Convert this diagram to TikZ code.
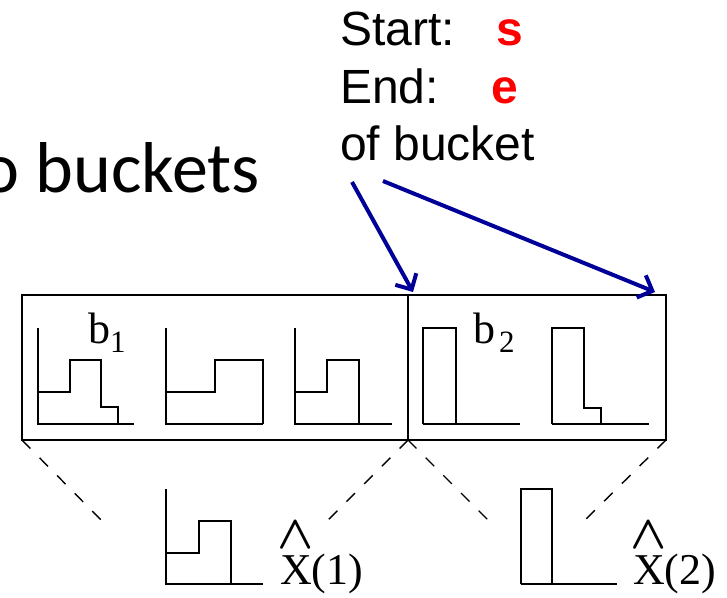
\documentclass[tikz,border=0pt]{standalone}
\usepackage{fontspec}
\usepackage{graphicx}
\usepackage{tikz}
\usetikzlibrary{arrows.meta, positioning, calc}
\newfontfamily\arialfont{Liberation Sans}
\newfontfamily\timesfont{Liberation Serif}
\newfontfamily\calibrifont{Carlito}
\definecolor{myred}{RGB}{255,0,0}
\definecolor{myblue}{RGB}{0,0,153}
\tikzset{
  frame/.style={draw=black, line width=2pt},
  hist/.style={draw=black, line width=2.3pt},
  guide/.style={draw=black, line width=1.4pt, dash pattern=on 12pt off 13pt},
  pointer/.style={-{Straight Barb[length=12pt,width=24pt]}, line width=4pt, color=myblue},
  lbl/.style={inner sep=0pt, anchor=base west},
  infotext/.style={lbl, font=\arialfont\fontsize{48}{55}\selectfont},
  redmark/.style={lbl, text=myred, font=\arialfont\bfseries\fontsize{48}{55}\selectfont},
  binlabel/.style={lbl, font=\timesfont\fontsize{44}{50}\selectfont}
}
\newcommand{\wedgehat}[1]{\rlap{\raisebox{36pt}{\makebox[31pt]{\scalebox{1.9}{\boldmath$\wedge$}}}}X(#1)}

\begin{document}
\begin{tikzpicture}[x=1pt, y=-1pt]
  \useasboundingbox (0,0) rectangle (727,597);
  \clip (0,0) rectangle (727,597);

  \node[lbl, anchor=base east, font=\calibrifont\fontsize{72}{80}\selectfont] (title) at (260,192) {o buckets};
  \node[infotext] (start) at (340,45) {Start:};
  \node[redmark] (smark) at (496,45) {s};
  \node[infotext] (finish) at (340,103) {End:};
  \node[redmark] (emark) at (491,103) {e};
  \node[infotext] (ofbucket) at (340,160) {of bucket};

  \coordinate (tl) at (22,295);
  \coordinate (br) at (666,440);
  \coordinate (midtop) at (408,295);
  \coordinate (midbot) at (408,440);
  \coordinate (bl) at (22,440);
  \draw[frame] (tl) rectangle (br);
  \draw[frame] (midtop) -- (midbot);

  % bucket 1
  \draw[hist] (38,328) -- (38,424) -- (134,424);
  \draw[hist] (38,392) -- (70,392) -- (70,360) -- (101,360) -- (101,407) -- (118,407) -- (118,424);
  \draw[hist] (166,328) -- (166,424) -- (263,424);
  \draw[hist] (166,392) -- (215,392) -- (215,360) -- (263,360) -- (263,424);
  \draw[hist] (295,328) -- (295,424) -- (392,424);
  \draw[hist] (295,392) -- (327,392) -- (327,360) -- (359,360) -- (359,424);
  \node[binlabel] (bone) at (88,343) {b\raisebox{-9pt}{\fontsize{31}{31}\selectfont 1}};

  % bucket 2
  \draw[hist] (423,424) -- (423,328) -- (456,328) -- (456,424);
  \draw[hist] (423,424) -- (520,424);
  \draw[hist] (552,424) -- (552,328) -- (584,328) -- (584,408) -- (601,408) -- (601,424);
  \draw[hist] (552,424) -- (649,424);
  \node[binlabel] (btwo) at (473,343) {b\raisebox{-9pt}{\fontsize{31}{31}\selectfont\hspace{4pt}2}};

  % pointers
  \coordinate (tailA) at ($(ofbucket.base west)+(12,22)$);
  \coordinate (tailB) at ($(ofbucket.base west)+(43,21)$);
  \coordinate (tipA) at (413,292);
  \coordinate (tipB) at (655,292);
  \draw[pointer] (tailA) -- (tipA);
  \draw[pointer] (tailB) -- (tipB);

  % summaries
  \coordinate (g1) at (103,522);
  \coordinate (g2) at (328,520);
  \coordinate (g3) at (488,520);
  \coordinate (g4) at (585,520);
  \draw[guide] (bl) -- (g1);
  \draw[guide] (midbot) -- (g2);
  \draw[guide] (midbot) -- (g3);
  \draw[guide] (br) -- (g4);

  \draw[hist] (166,489) -- (166,584) -- (263,584);
  \draw[hist] (166,553) -- (199,553) -- (199,521) -- (231,521) -- (231,584);
  \node[binlabel] (xone) at (280,584) {\wedgehat{1}};
  \draw[hist] (521,584) -- (521,489) -- (552,489) -- (552,584);
  \draw[hist] (521,584) -- (617,584);
  \node[binlabel] (xtwo) at (633,584) {\wedgehat{2}};
\end{tikzpicture}
\end{document}
